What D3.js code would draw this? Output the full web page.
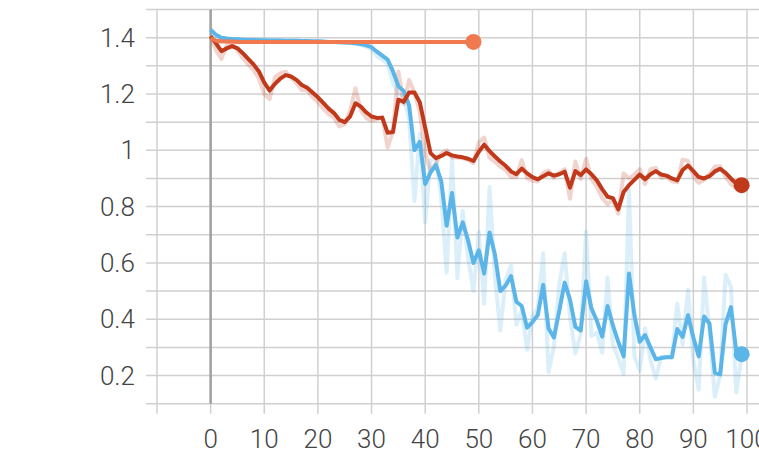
<!DOCTYPE html>
<html>
<head>
<meta charset="utf-8">
<script src="https://cdn.jsdelivr.net/npm/d3@7"></script>
<style>
  html, body { margin: 0; padding: 0; background: #fff; overflow: hidden; }
  svg { display: block; }
  text { font-family: Roboto, "Noto Sans", sans-serif; }
</style>
</head>
<body>
<svg id="chart" width="759" height="456"></svg>
<script>
// x ticks (steps) and y grid / labels
const xTicks = [-10, 0, 10, 20, 30, 40, 50, 60, 70, 80, 90, 100];
const xTickLabels = ['', '0', '10', '20', '30', '40', '50', '60', '70', '80', '90', '100'];
const yGrid = [0.1, 0.2, 0.3, 0.4, 0.5, 0.6, 0.7, 0.8, 0.9, 1.0, 1.1, 1.2, 1.3, 1.4, 1.5];
const yLabels = [0.2, 0.4, 0.6, 0.8, 1.0, 1.2, 1.4];

// orange run: steps 0..49 (smoothed, raw hidden underneath)
const orangeSmooth = [1.398, 1.389, 1.387, 1.386, 1.386, 1.385, 1.385, 1.385, 1.385, 1.385,
  1.385, 1.385, 1.385, 1.385, 1.385, 1.385, 1.385, 1.385, 1.385, 1.385,
  1.385, 1.385, 1.385, 1.385, 1.385, 1.385, 1.385, 1.385, 1.385, 1.385,
  1.385, 1.385, 1.385, 1.385, 1.385, 1.385, 1.385, 1.385, 1.385, 1.385,
  1.385, 1.385, 1.385, 1.385, 1.385, 1.385, 1.385, 1.385, 1.385, 1.385];
const orangeRaw = [1.398, 1.386, 1.386, 1.385, 1.386, 1.385, 1.385, 1.385, 1.385, 1.385,
  1.385, 1.385, 1.385, 1.385, 1.385, 1.385, 1.385, 1.385, 1.385, 1.385,
  1.385, 1.385, 1.385, 1.385, 1.385, 1.385, 1.385, 1.385, 1.385, 1.385,
  1.385, 1.385, 1.385, 1.385, 1.385, 1.385, 1.385, 1.385, 1.385, 1.385,
  1.385, 1.385, 1.385, 1.385, 1.385, 1.385, 1.385, 1.385, 1.385, 1.385];

// blue run: steps 0..99
const blueSmooth = [1.428, 1.41, 1.40, 1.397, 1.395, 1.394, 1.393, 1.392, 1.392, 1.391,
  1.391, 1.39, 1.39, 1.39, 1.389, 1.389, 1.389, 1.388, 1.388, 1.387,
  1.387, 1.386, 1.385, 1.385, 1.384, 1.383, 1.382, 1.38, 1.377, 1.373,
  1.366, 1.35, 1.336, 1.322, 1.28, 1.228, 1.21, 1.16, 1.0, 1.03,
  0.88, 0.922, 0.948, 0.89, 0.732, 0.848, 0.69, 0.744, 0.68, 0.6,
  0.645, 0.562, 0.708, 0.63, 0.5, 0.52, 0.553, 0.462, 0.447, 0.37,
  0.39, 0.415, 0.522, 0.367, 0.335, 0.43, 0.53, 0.47, 0.373, 0.36,
  0.535, 0.438, 0.395, 0.338, 0.447, 0.378, 0.32, 0.268, 0.562, 0.415,
  0.32, 0.344, 0.3, 0.258, 0.262, 0.265, 0.265, 0.365, 0.337, 0.414,
  0.335, 0.268, 0.41, 0.385, 0.21, 0.204, 0.382, 0.443, 0.285, 0.276];
const blueRaw = [1.428, 1.392, 1.39, 1.394, 1.393, 1.393, 1.392, 1.391, 1.392, 1.39,
  1.391, 1.389, 1.39, 1.39, 1.388, 1.389, 1.389, 1.387, 1.388, 1.386,
  1.387, 1.385, 1.384, 1.385, 1.383, 1.382, 1.381, 1.378, 1.374, 1.369,
  1.359, 1.334, 1.322, 1.308, 1.238, 1.2, 1.192, 1.11, 0.82, 1.06,
  0.744, 0.964, 0.974, 0.832, 0.565, 0.97, 0.545, 0.785, 0.616, 0.5,
  0.71, 0.455, 0.87, 0.552, 0.36, 0.54, 0.59, 0.38, 0.432, 0.292,
  0.41, 0.44, 0.634, 0.213, 0.303, 0.525, 0.634, 0.41, 0.278, 0.347,
  0.712, 0.341, 0.352, 0.281, 0.548, 0.309, 0.262, 0.205, 0.86, 0.268,
  0.218, 0.368, 0.256, 0.19, 0.266, 0.268, 0.265, 0.455, 0.309, 0.505,
  0.256, 0.15, 0.548, 0.36, 0.125, 0.2, 0.558, 0.515, 0.14, 0.267];

// red run: steps 0..99
const redSmooth = [1.405, 1.38, 1.352, 1.362, 1.37, 1.362, 1.345, 1.325, 1.305, 1.28,
  1.24, 1.212, 1.236, 1.255, 1.267, 1.262, 1.25, 1.232, 1.222, 1.205,
  1.188, 1.168, 1.148, 1.132, 1.108, 1.1, 1.12, 1.167, 1.155, 1.135,
  1.12, 1.115, 1.116, 1.062, 1.065, 1.18, 1.172, 1.205, 1.205, 1.17,
  1.08, 0.99, 0.972, 0.98, 0.99, 0.982, 0.978, 0.975, 0.97, 0.962,
  0.995, 1.02, 0.997, 0.978, 0.96, 0.945, 0.925, 0.915, 0.935, 0.918,
  0.905, 0.897, 0.908, 0.918, 0.91, 0.915, 0.924, 0.867, 0.926, 0.912,
  0.932, 0.915, 0.893, 0.862, 0.835, 0.83, 0.79, 0.852, 0.876, 0.895,
  0.914, 0.897, 0.915, 0.926, 0.914, 0.91, 0.9, 0.893, 0.93, 0.946,
  0.926, 0.905, 0.9, 0.908, 0.925, 0.934, 0.92, 0.9, 0.882, 0.876];
const redRaw = [1.405, 1.355, 1.324, 1.372, 1.378, 1.354, 1.328, 1.305, 1.285, 1.255,
  1.2, 1.182, 1.26, 1.274, 1.279, 1.257, 1.238, 1.214, 1.212, 1.188,
  1.171, 1.148, 1.128, 1.116, 1.085, 1.092, 1.14, 1.22, 1.143, 1.115,
  1.105, 1.11, 1.117, 1.01, 1.068, 1.28, 1.164, 1.25, 1.205, 1.135,
  0.99, 0.925, 0.954, 0.988, 1.0, 0.974, 0.974, 0.972, 0.965, 0.954,
  1.028, 1.045, 0.974, 0.959, 0.942, 0.93, 0.905, 0.905, 0.965, 0.901,
  0.892, 0.889, 0.919, 0.928, 0.902, 0.92, 0.933, 0.828, 0.96, 0.898,
  0.97, 0.898, 0.871, 0.831, 0.808, 0.825, 0.775, 0.918, 0.9, 0.914,
  0.933, 0.88, 0.933, 0.937, 0.902, 0.906, 0.89, 0.886, 0.967, 0.962,
  0.906, 0.884, 0.895, 0.916, 0.942, 0.943, 0.906, 0.88, 0.864, 0.87];

const runs = [
  { smooth: blueSmooth, raw: blueRaw, color: '#5bb5e8' },
  { smooth: redSmooth, raw: redRaw, color: '#c0391b' },
  { smooth: orangeSmooth, raw: orangeRaw, color: '#f0794f' }
];

const W = 759;
const plotTop = 9.5, plotBottom = 403.7;

const x = d3.scaleLinear().domain([-10, 100]).range([157, 747]);
const y = d3.scaleLinear().domain([0.1, 1.5]).range([plotBottom, plotTop]);

const svg = d3.select('#chart');

svg.append('defs').append('clipPath').attr('id', 'plot-clip')
  .append('rect')
  .attr('x', x(-10)).attr('y', plotTop)
  .attr('width', W - x(-10) + 20).attr('height', plotBottom - plotTop);

// grid: horizontal lines run past the y axis as tick marks
const grid = svg.append('g');
grid.selectAll('line.h')
  .data(yGrid)
  .join('line')
  .attr('class', 'h')
  .attr('x1', 146).attr('x2', W + 20)
  .attr('y1', d => y(d)).attr('y2', d => y(d))
  .attr('stroke', '#d0d0d0')
  .attr('stroke-width', 1.5);

grid.selectAll('line.v')
  .data(xTicks)
  .join('line')
  .attr('class', 'v')
  .attr('x1', d => x(d)).attr('x2', d => x(d))
  .attr('y1', plotTop).attr('y2', plotBottom + 10)
  .attr('stroke', '#d0d0d0')
  .attr('stroke-width', 1.5);

// zero line on x
grid.append('line')
  .attr('x1', x(0)).attr('x2', x(0))
  .attr('y1', plotTop).attr('y2', plotBottom)
  .attr('stroke', '#a0a0a0')
  .attr('stroke-width', 2.5);

// labels
svg.append('g').selectAll('text')
  .data(yLabels)
  .join('text')
  .attr('x', 135)
  .attr('y', d => y(d))
  .attr('dy', '0.35em')
  .attr('text-anchor', 'end')
  .attr('font-size', 26)
  .attr('font-weight', 300)
  .attr('fill', '#444')
  .text(d => d3.format('~g')(d));

svg.append('g').selectAll('text')
  .data(xTicks)
  .join('text')
  .attr('x', d => x(d))
  .attr('y', 439)
  .attr('dy', '0.35em')
  .attr('text-anchor', 'middle')
  .attr('font-size', 26)
  .attr('font-weight', 300)
  .attr('fill', '#444')
  .text((d, i) => xTickLabels[i]);

const line = d3.line()
  .x((d, i) => x(i))
  .y(d => y(d));

const plot = svg.append('g').attr('clip-path', 'url(#plot-clip)');

// raw (unsmoothed) traces underneath
plot.selectAll('path.raw')
  .data(runs)
  .join('path')
  .attr('class', 'raw')
  .attr('d', r => line(r.raw))
  .attr('fill', 'none')
  .attr('stroke', r => r.color)
  .attr('stroke-opacity', 0.22)
  .attr('stroke-width', 4)
  .attr('stroke-linejoin', 'round');

plot.selectAll('path.smooth')
  .data(runs)
  .join('path')
  .attr('class', 'smooth')
  .attr('d', r => line(r.smooth))
  .attr('fill', 'none')
  .attr('stroke', r => r.color)
  .attr('stroke-width', 4)
  .attr('stroke-linejoin', 'round');

// end markers
svg.append('g').selectAll('circle')
  .data(runs)
  .join('circle')
  .attr('cx', r => x(r.smooth.length - 1))
  .attr('cy', r => y(r.smooth[r.smooth.length - 1]))
  .attr('r', 8)
  .attr('fill', r => r.color);
</script>
</body>
</html>
